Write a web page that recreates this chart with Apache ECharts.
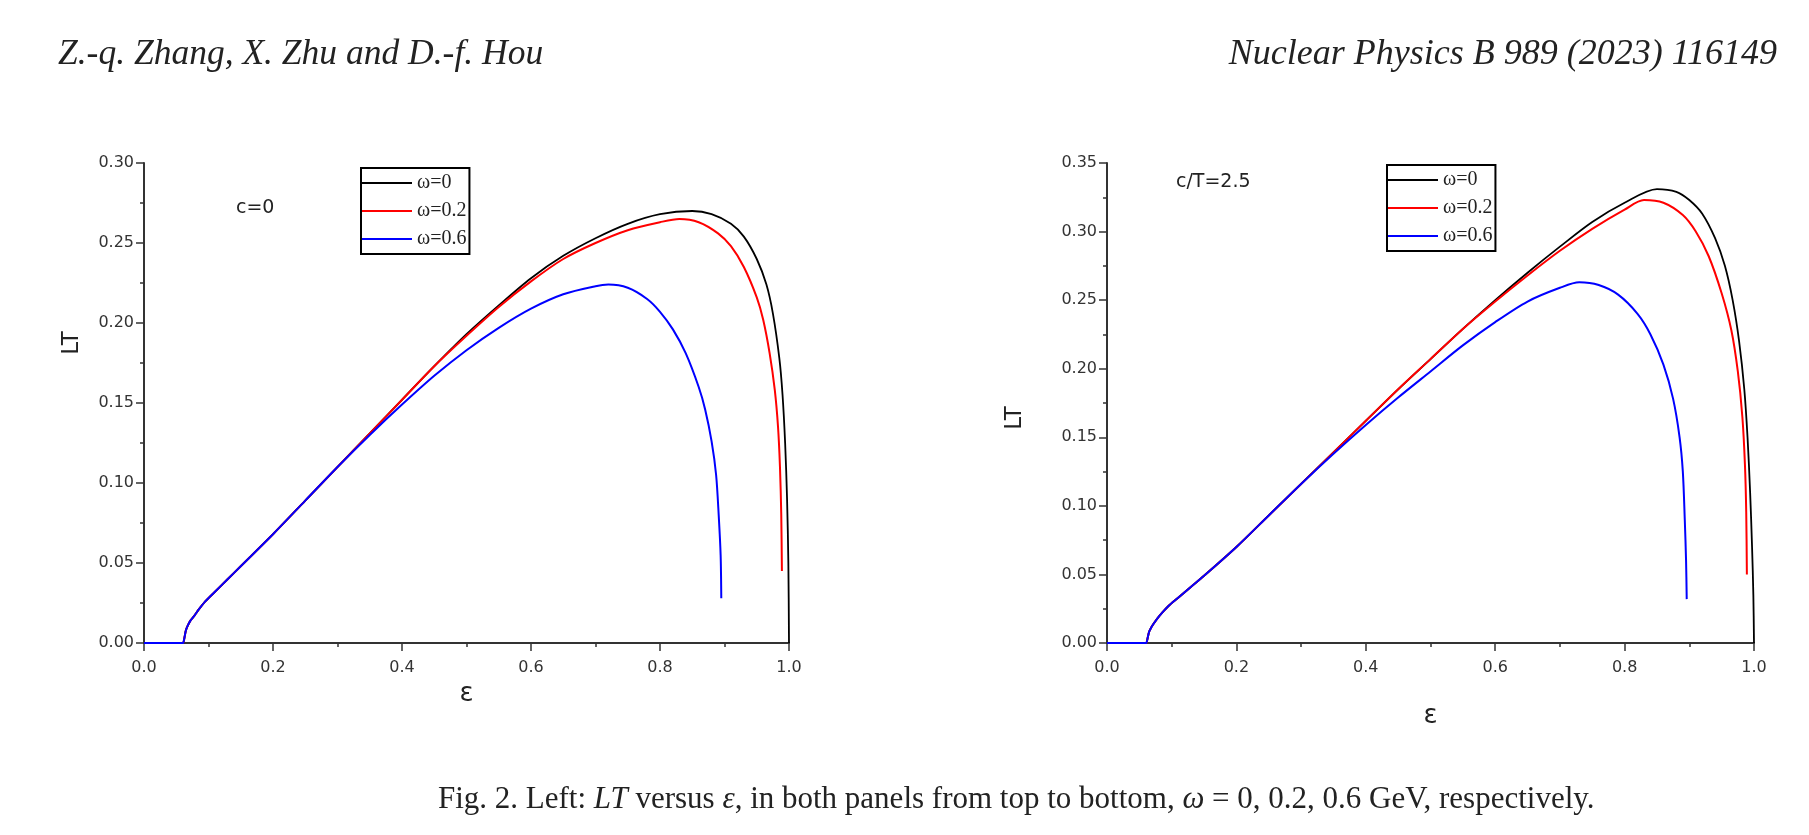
<!DOCTYPE html>
<html>
<head>
<meta charset="utf-8">
<title>LT versus ε</title>
<script src="https://cdn.jsdelivr.net/npm/echarts@6/dist/echarts.min.js"></script>
<style>
html, body { margin: 0; padding: 0; background: #fff; }
#chart { width: 1809px; height: 835px; }
</style>
</head>
<body>
<div id="chart"></div>
<script>
// [ε, LT], left panel (c=0)
const leftOmega0 = [
  [0, 0], [0.061, 0], [0.062, 0], [0.063, 0.004], [0.065, 0.008], [0.068, 0.011], [0.072, 0.014],
  [0.078, 0.017], [0.085, 0.021], [0.095, 0.026], [0.11, 0.032], [0.13, 0.040], [0.15, 0.048],
  [0.2, 0.068], [0.25, 0.089], [0.3, 0.110], [0.35, 0.131], [0.4, 0.152], [0.45, 0.173],
  [0.5, 0.193], [0.55, 0.211], [0.6, 0.228], [0.65, 0.242], [0.7, 0.253], [0.75, 0.262],
  [0.8, 0.268], [0.85, 0.270], [0.88, 0.268], [0.91, 0.262], [0.93, 0.254], [0.95, 0.240],
  [0.965, 0.224], [0.975, 0.206], [0.985, 0.178], [0.99, 0.155], [0.994, 0.125],
  [0.997, 0.09], [0.999, 0.05], [1.0, 0]
]
const leftOmega02 = [
  [0, 0], [0.061, 0], [0.062, 0], [0.063, 0.004], [0.065, 0.008], [0.068, 0.011], [0.072, 0.014],
  [0.078, 0.017], [0.085, 0.021], [0.095, 0.026], [0.11, 0.032], [0.13, 0.040], [0.15, 0.048],
  [0.2, 0.068], [0.25, 0.089], [0.3, 0.110], [0.35, 0.131], [0.4, 0.152], [0.45, 0.173],
  [0.5, 0.192], [0.55, 0.210], [0.6, 0.226], [0.65, 0.240], [0.7, 0.250], [0.75, 0.258],
  [0.8, 0.263], [0.83, 0.265], [0.86, 0.263], [0.89, 0.256], [0.91, 0.248], [0.93, 0.235],
  [0.95, 0.216], [0.96, 0.202], [0.97, 0.181], [0.978, 0.158], [0.983, 0.135],
  [0.986, 0.110], [0.988, 0.080], [0.989, 0.045]
]
const leftOmega06 = [
  [0, 0], [0.061, 0], [0.062, 0], [0.063, 0.004], [0.065, 0.008], [0.068, 0.011], [0.072, 0.014],
  [0.078, 0.017], [0.085, 0.021], [0.095, 0.026], [0.11, 0.032], [0.13, 0.040], [0.15, 0.048],
  [0.2, 0.068], [0.25, 0.089], [0.3, 0.110], [0.35, 0.130], [0.4, 0.149], [0.45, 0.167],
  [0.5, 0.183], [0.55, 0.197], [0.6, 0.209], [0.65, 0.218], [0.7, 0.223], [0.72, 0.224],
  [0.75, 0.222], [0.78, 0.215], [0.8, 0.207], [0.82, 0.196], [0.84, 0.181], [0.86, 0.160],
  [0.87, 0.146], [0.88, 0.126], [0.887, 0.105], [0.891, 0.080], [0.894, 0.055], [0.895, 0.028]
]

// right panel (c/T=2.5)
const rightOmega0 = [
  [0, 0], [0.061, 0], [0.062, 0], [0.063, 0.004], [0.065, 0.008], [0.068, 0.011], [0.072, 0.014],
  [0.078, 0.018], [0.085, 0.022], [0.095, 0.027], [0.11, 0.033], [0.13, 0.041], [0.15, 0.049],
  [0.2, 0.070], [0.25, 0.093], [0.3, 0.116], [0.35, 0.139], [0.4, 0.162], [0.45, 0.185],
  [0.5, 0.207], [0.55, 0.229], [0.6, 0.250], [0.65, 0.270], [0.7, 0.289], [0.75, 0.307],
  [0.8, 0.321], [0.85, 0.331], [0.88, 0.329], [0.9, 0.323], [0.92, 0.313], [0.94, 0.295],
  [0.955, 0.275], [0.967, 0.250], [0.977, 0.220], [0.985, 0.185], [0.99, 0.150],
  [0.994, 0.110], [0.997, 0.070], [0.999, 0.035], [1.0, 0]
]
const rightOmega02 = [
  [0, 0], [0.061, 0], [0.062, 0], [0.063, 0.004], [0.065, 0.008], [0.068, 0.011], [0.072, 0.014],
  [0.078, 0.018], [0.085, 0.022], [0.095, 0.027], [0.11, 0.033], [0.13, 0.041], [0.15, 0.049],
  [0.2, 0.070], [0.25, 0.093], [0.3, 0.116], [0.35, 0.139], [0.4, 0.162], [0.45, 0.185],
  [0.5, 0.207], [0.55, 0.229], [0.6, 0.249], [0.65, 0.268], [0.7, 0.286], [0.75, 0.302],
  [0.8, 0.316], [0.83, 0.323], [0.86, 0.321], [0.89, 0.312], [0.91, 0.300], [0.93, 0.282],
  [0.95, 0.255], [0.965, 0.228], [0.975, 0.198], [0.982, 0.165], [0.986, 0.130],
  [0.988, 0.095], [0.989, 0.05]
]
const rightOmega06 = [
  [0, 0], [0.061, 0], [0.062, 0], [0.063, 0.004], [0.065, 0.008], [0.068, 0.011], [0.072, 0.014],
  [0.078, 0.018], [0.085, 0.022], [0.095, 0.027], [0.11, 0.033], [0.13, 0.041], [0.15, 0.049],
  [0.2, 0.070], [0.25, 0.093], [0.3, 0.116], [0.35, 0.138], [0.4, 0.159], [0.45, 0.179],
  [0.5, 0.198], [0.55, 0.217], [0.6, 0.234], [0.65, 0.249], [0.7, 0.259], [0.73, 0.263],
  [0.76, 0.261], [0.79, 0.254], [0.82, 0.240], [0.84, 0.225], [0.86, 0.203], [0.875, 0.178],
  [0.885, 0.150], [0.89, 0.125], [0.893, 0.09], [0.895, 0.060], [0.896, 0.032]
]

const seriesNames = ['ω=0', 'ω=0.2', 'ω=0.6']
const lineColors = ['#000000', '#ff0000', '#0000ff']
const yMax = [0.30, 0.35]
const panelNotes = ['c=0', 'c/T=2.5']

const chart = echarts.init(document.getElementById('chart'))

const axisColor = '#333'
const labelFont = 'DejaVu Sans'

function xAxisFor(gridIndex, nameGap) {
  return {
    type: 'value',
    gridIndex: gridIndex,
    min: 0,
    max: 1,
    interval: 0.2,
    name: 'ε',
    nameLocation: 'middle',
    nameGap: nameGap,
    nameTextStyle: { fontFamily: labelFont, fontSize: 26, color: '#222' },
    splitLine: { show: false },
    axisLine: { show: true, lineStyle: { color: axisColor, width: 2 } },
    axisTick: { show: true, length: 8, lineStyle: { color: axisColor, width: 1.5 } },
    minorTick: { show: true, splitNumber: 2, length: 4, lineStyle: { color: axisColor, width: 1.5 } },
    axisLabel: {
      margin: 17,
      fontFamily: labelFont,
      fontSize: 16,
      color: '#333',
      formatter: (v) => v.toFixed(1),
    },
  }
}

function yAxisFor(gridIndex, max) {
  return {
    type: 'value',
    gridIndex: gridIndex,
    min: 0,
    max: max,
    interval: 0.05,
    splitLine: { show: false },
    axisLine: { show: true, onZero: false, lineStyle: { color: axisColor, width: 2 } },
    axisTick: { show: true, length: 8, lineStyle: { color: axisColor, width: 1.5 } },
    minorTick: { show: true, splitNumber: 2, length: 4, lineStyle: { color: axisColor, width: 1.5 } },
    axisLabel: {
      margin: 10,
      fontFamily: labelFont,
      fontSize: 16,
      color: '#333',
      formatter: (v) => v.toFixed(2),
    },
  }
}

function legendFor(left, top) {
  return {
    data: seriesNames,
    orient: 'vertical',
    left: left,
    top: top,
    icon: 'rect',
    itemWidth: 50,
    itemHeight: 2,
    itemGap: 8,
    itemTextGap: 7,
    padding: [5, 3, 5, 1],
    borderColor: '#000',
    borderWidth: 2,
    selectedMode: false,
    textStyle: { fontFamily: 'Liberation Serif', fontSize: 20, color: '#222' },
  }
}

function lineSeries(name, data, color, gridIndex, width) {
  return {
    name: name,
    type: 'line',
    data: data,
    xAxisIndex: gridIndex,
    yAxisIndex: gridIndex,
    symbol: 'none',
    showSymbol: false,
    smooth: 0.3,
    lineStyle: { color: color, width: width },
    itemStyle: { color: color },
  }
}

const rich = {
  n: { fontFamily: 'Liberation Serif', fontSize: 31, fontWeight: 'normal', color: '#222' },
  i: { fontFamily: 'Liberation Serif', fontSize: 31, fontWeight: 'normal', fontStyle: 'italic', color: '#222' },
}

chart.setOption({
  animation: false,
  backgroundColor: '#fff',
  title: [
    {
      text: 'Z.-q. Zhang, X. Zhu and D.-f. Hou',
      left: 53,
      top: 32,
      textStyle: { fontFamily: 'Liberation Serif', fontStyle: 'italic', fontWeight: 'normal', fontSize: 35.5, color: '#222' },
    },
    {
      text: 'Nuclear Physics B 989 (2023) 116149',
      right: 27,
      top: 32,
      textStyle: { fontFamily: 'Liberation Serif', fontStyle: 'italic', fontWeight: 'normal', fontSize: 36, color: '#222' },
    },
    {
      text: '{n|Fig. 2. Left: }{i|LT}{n| versus }{i|ε}{n|, in both panels from top to bottom, }{i|ω}{n| = 0, 0.2, 0.6 GeV, respectively.}',
      left: 433,
      top: 779,
      textStyle: { fontWeight: 'normal', rich: rich },
    },
  ],
  grid: [
    { left: 144, top: 163, width: 645, height: 480 },
    { left: 1107, top: 163, width: 647, height: 480 },
  ],
  xAxis: [xAxisFor(0, 36), xAxisFor(1, 60)],
  yAxis: [yAxisFor(0, yMax[0]), yAxisFor(1, yMax[1])],
  legend: [legendFor(361, 168), legendFor(1387, 165)],
  graphic: [
    {
      type: 'text', x: 236, y: 208,
      style: { text: panelNotes[0], fontFamily: labelFont, fontSize: 19, fill: '#222', align: 'left', verticalAlign: 'middle' },
    },
    {
      type: 'text', x: 1176, y: 182,
      style: { text: panelNotes[1], fontFamily: labelFont, fontSize: 19, fill: '#222', align: 'left', verticalAlign: 'middle' },
    },
    {
      type: 'text', x: 72, y: 343, rotation: Math.PI / 2,
      style: { text: 'LT', fontFamily: labelFont, fontSize: 23, fill: '#222', align: 'center', verticalAlign: 'middle' },
    },
    {
      type: 'text', x: 1015, y: 418, rotation: Math.PI / 2,
      style: { text: 'LT', fontFamily: labelFont, fontSize: 23, fill: '#222', align: 'center', verticalAlign: 'middle' },
    },
  ],
  series: [
    lineSeries(seriesNames[0], leftOmega0, lineColors[0], 0, 1.8),
    lineSeries(seriesNames[1], leftOmega02, lineColors[1], 0, 2),
    lineSeries(seriesNames[2], leftOmega06, lineColors[2], 0, 2),
    lineSeries(seriesNames[0], rightOmega0, lineColors[0], 1, 1.8),
    lineSeries(seriesNames[1], rightOmega02, lineColors[1], 1, 2),
    lineSeries(seriesNames[2], rightOmega06, lineColors[2], 1, 2),
  ],
})
</script>
</body>
</html>
